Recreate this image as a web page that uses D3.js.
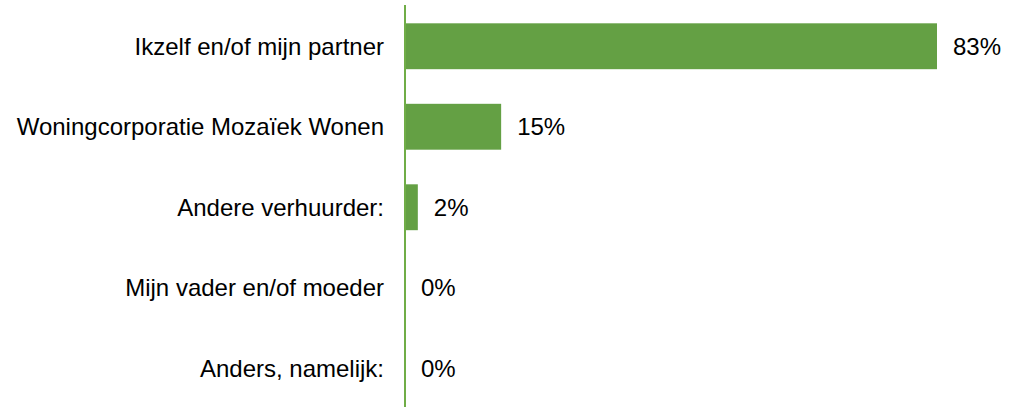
<!DOCTYPE html>
<html>
<head>
<meta charset="utf-8">
<script src="https://cdn.jsdelivr.net/npm/d3@7"></script>
<style>
  body { margin: 0; background: #fff; }
  text { font-family: "Liberation Sans", Arial, sans-serif; font-size: 24px; fill: #000; }
</style>
</head>
<body>
<svg id="chart" width="1015" height="407"></svg>
<script>
const categories = [
  "Ikzelf en/of mijn partner",
  "Woningcorporatie Mozaïek Wonen",
  "Andere verhuurder:",
  "Mijn vader en/of moeder",
  "Anders, namelijk:"
];
const values = [83, 15, 2, 0, 0];

const width = 1015;
const height = 407;
const margin = { top: 5, right: 0, bottom: 0, left: 405 };

const svg = d3.select("#chart");

const x = d3.scaleLinear().domain([0, 83]).range([margin.left, margin.left + 532]);
const y = d3.scaleBand().domain(categories).range([margin.top + 1, height + 1.5]).paddingInner(0.43).paddingOuter(0.215);

svg.append("g")
  .selectAll("rect")
  .data(values)
  .enter().append("rect")
  .attr("x", x(0))
  .attr("y", (d, i) => y(categories[i]))
  .attr("width", d => x(d) - x(0))
  .attr("height", y.bandwidth())
  .attr("fill", "#64a044");

// value labels
svg.append("g")
  .selectAll("text")
  .data(values)
  .enter().append("text")
  .attr("x", d => x(d) + 16)
  .attr("y", (d, i) => y(categories[i]) + y.bandwidth() / 2)
  .attr("dy", "0.35em")
  .text(d => d + "%");

// category labels
svg.append("g")
  .selectAll("text")
  .data(categories)
  .enter().append("text")
  .attr("x", margin.left - 21)
  .attr("y", d => y(d) + y.bandwidth() / 2)
  .attr("dy", "0.35em")
  .attr("text-anchor", "end")
  .text(d => d);

// vertical axis line
svg.append("line")
  .attr("x1", x(0)).attr("x2", x(0))
  .attr("y1", margin.top).attr("y2", height)
  .attr("stroke", "#70ad47")
  .attr("stroke-width", 2);
</script>
</body>
</html>
